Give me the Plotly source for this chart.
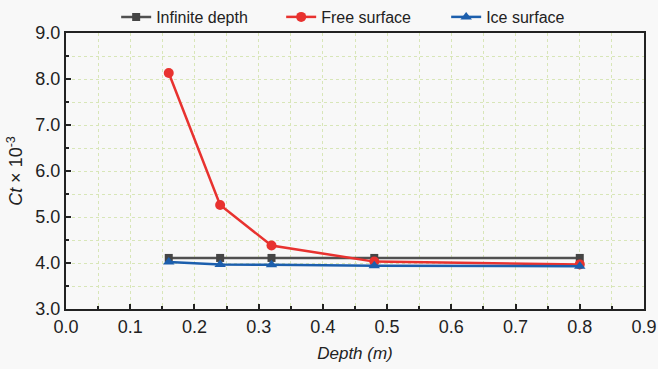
import plotly.graph_objects as go

depth = [0.16, 0.24, 0.32, 0.48, 0.8]
infinite_depth = [4.11, 4.11, 4.11, 4.11, 4.11]
free_surface = [8.13, 5.26, 4.38, 4.03, 3.97]
ice_surface = [4.02, 3.97, 3.96, 3.94, 3.93]

bg = "#f8f8f8"
fig = go.Figure()
fig.add_trace(go.Scatter(x=depth, y=infinite_depth, name="Infinite depth", mode="lines+markers",
                         line=dict(color="#505050", width=2.5),
                         marker=dict(symbol="square", size=8, color="#454545")))
fig.add_trace(go.Scatter(x=depth, y=free_surface, name="Free surface", mode="lines+markers",
                         line=dict(color="#e8322f", width=2.5),
                         marker=dict(symbol="circle", size=10, color="#e8322f")))
fig.add_trace(go.Scatter(x=depth, y=ice_surface, name="Ice surface", mode="lines+markers",
                         line=dict(color="#1c5fad", width=2.5),
                         marker=dict(symbol="triangle-up", size=10, color="#1c5fad")))

gridc = "#d8e6b8"
common = dict(ticks="inside", ticklen=5, tickwidth=1.5, tickcolor="#222", showline=True,
              linecolor="#222", linewidth=2, mirror=True, zeroline=False,
              showgrid=True, gridcolor=gridc, griddash="dot", gridwidth=1)
fig.update_layout(
    width=658, height=369,
    margin=dict(l=66, r=14, t=33, b=60, autoexpand=False),
    paper_bgcolor=bg, plot_bgcolor=bg,
    font=dict(family="Liberation Sans, Arial, sans-serif", size=18, color="#222222"),
    legend=dict(orientation="h", x=0.515, xanchor="center", y=1.058, yanchor="middle",
                font=dict(size=16), entrywidth=120, entrywidthmode="pixels",
                bgcolor="rgba(0,0,0,0)"),
    xaxis=dict(range=[0, 0.9], dtick=0.1, tickformat=".1f",
               minor=dict(dtick=0.05, ticks="inside", ticklen=3, tickcolor="#222",
                          showgrid=True, gridcolor=gridc, griddash="dot"),
               title=dict(text="<i>Depth (m)</i>", font=dict(size=17), standoff=12),
               **common),
    yaxis=dict(range=[3, 9], dtick=1, tickformat=".1f",
               minor=dict(dtick=0.5, ticks="inside", ticklen=3, tickcolor="#222",
                          showgrid=True, gridcolor=gridc, griddash="dot"),
               title=dict(text="<i>Ct</i> × 10<sup>-3</sup>", font=dict(size=18), standoff=8),
               **common),
)
fig.write_html("out.html")
